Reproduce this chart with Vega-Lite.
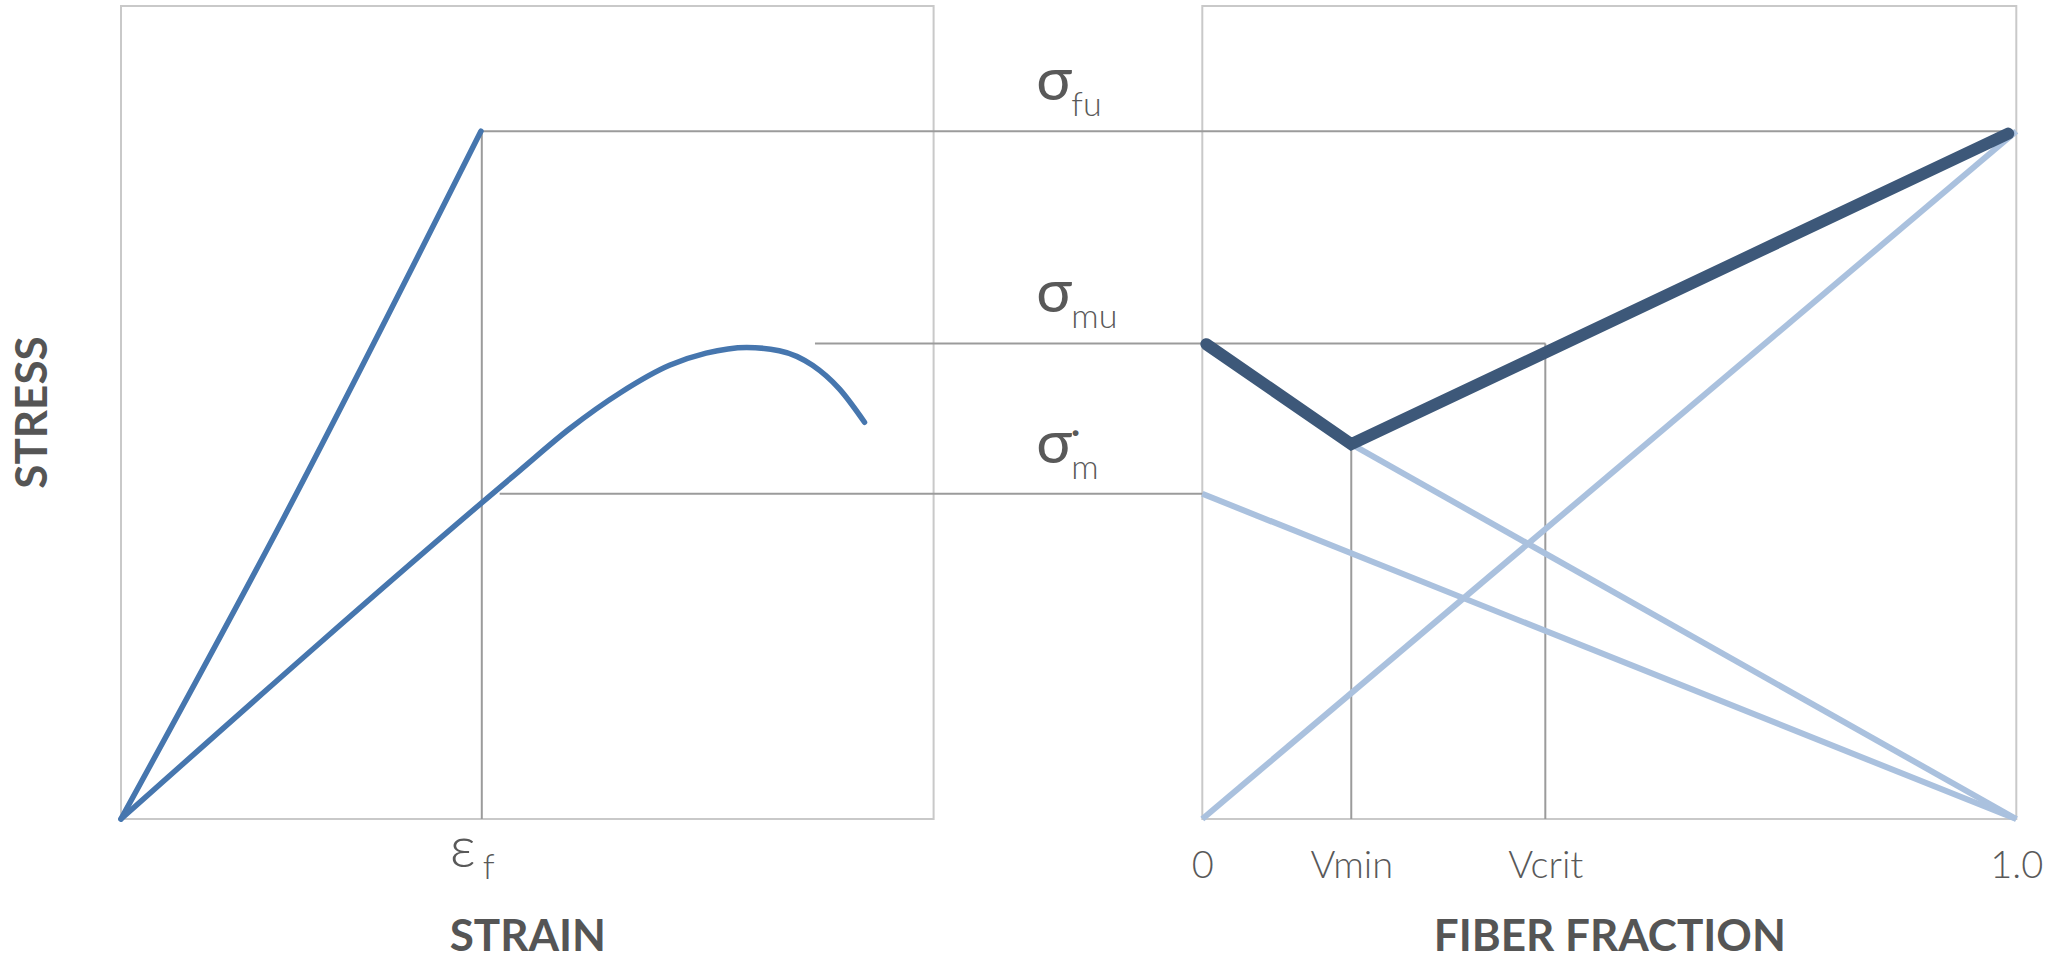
{
  "$schema": "https://vega.github.io/schema/vega-lite/v6.json",
  "width": 1896,
  "height": 813,
  "autosize": {"type": "none"},
  "padding": {"left": 121, "top": 6, "right": 30, "bottom": 141},
  "background": "white",
  "config": {
    "view": {"stroke": null},
    "text": {"font": "Lato", "color": "#595959", "fontWeight": 300},
    "axis": {
      "labelFont": "Lato", "labelFontWeight": 300, "labelFontSize": 38, "labelColor": "#595959",
      "titleFont": "Lato", "titleFontWeight": "bold", "titleFontSize": 44, "titleColor": "#555555",
      "grid": false, "ticks": false, "domain": false, "minExtent": 0
    }
  },
  "datasets": {
    "strainCurves": [
      {"curve": "fiber", "strain": 0, "stress": 0},
      {"curve": "fiber", "strain": 0.2, "stress": 0.37},
      {"curve": "fiber", "strain": 0.443, "stress": 0.846},
      {"curve": "matrix", "strain": 0, "stress": 0},
      {"curve": "matrix", "strain": 0.49, "stress": 0.428},
      {"curve": "matrix", "strain": 0.552, "stress": 0.48},
      {"curve": "matrix", "strain": 0.614, "stress": 0.524},
      {"curve": "matrix", "strain": 0.675, "stress": 0.558},
      {"curve": "matrix", "strain": 0.72, "stress": 0.573},
      {"curve": "matrix", "strain": 0.77, "stress": 0.58},
      {"curve": "matrix", "strain": 0.81, "stress": 0.576},
      {"curve": "matrix", "strain": 0.851, "stress": 0.558},
      {"curve": "matrix", "strain": 0.884, "stress": 0.529},
      {"curve": "matrix", "strain": 0.915, "stress": 0.488}
    ],
    "fractionLines": [
      {"line": "fiber", "V": 0, "stress": 0},
      {"line": "fiber", "V": 1, "stress": 0.846},
      {"line": "matrix", "V": 0, "stress": 0.4},
      {"line": "matrix", "V": 1, "stress": 0},
      {"line": "matrix ultimate", "V": 0.183, "stress": 0.461},
      {"line": "matrix ultimate", "V": 1, "stress": 0}
    ],
    "composite": [
      {"V": 0.005, "stress": 0.584},
      {"V": 0.183, "stress": 0.461},
      {"V": 0.99, "stress": 0.843}
    ],
    "levels": [
      {"level": "fu", "stress": 0.846, "start": 0.444, "end": 2.33},
      {"level": "mu", "stress": 0.585, "start": 0.854, "end": 1.753},
      {"level": "m", "stress": 0.4, "start": 0.466, "end": 1.331}
    ],
    "fractionMarks": [
      {"name": "Vmin", "V": 0.183, "stress": 0.461},
      {"name": "Vcrit", "V": 0.4214, "stress": 0.585}
    ],
    "titles": [
      {"title": "STRESS", "strain": 0, "stress": 0.5}
    ]
  },
  "resolve": {"scale": {"x": "independent"}},
  "layer": [
    {
      "data": {"values": [{"s0": 0, "s1": 1, "y0": 0, "y1": 1}]},
      "mark": {"type": "rect", "fill": "transparent", "stroke": "#c9c9c9", "strokeWidth": 2},
      "encoding": {
        "x": {"field": "s0", "type": "quantitative",
          "scale": {"domain": [0, 1], "range": [0, 812.6], "nice": false, "zero": false},
          "axis": {"orient": "bottom", "title": "STRAIN", "labels": false, "titleX": 406.3, "titleY": 131, "titleBaseline": "alphabetic", "titleAlign": "center"}},
        "x2": {"field": "s1"},
        "y": {"field": "y0", "type": "quantitative", "scale": {"domain": [0, 1], "nice": false, "zero": false}, "axis": null},
        "y2": {"field": "y1"}
      }
    },
    {
      "data": {"values": [{"v0": 0, "v1": 1, "y0": 0, "y1": 1}]},
      "mark": {"type": "rect", "fill": "transparent", "stroke": "#c9c9c9", "strokeWidth": 2},
      "encoding": {
        "x": {"field": "v0", "type": "quantitative",
          "scale": {"domain": [0, 1], "range": [1081.3, 1895.3], "nice": false, "zero": false},
          "axis": {"orient": "bottom", "title": "FIBER FRACTION", "values": [0, 0.183, 0.4214, 1],
            "labelExpr": "datum.value == 0 ? '0' : datum.value == 1 ? '1.0' : datum.value < 0.3 ? 'Vmin' : 'Vcrit'",
            "labelPadding": 28, "labelFlush": false, "labelOverlap": false,
            "titleX": 1488.3, "titleY": 131, "titleBaseline": "alphabetic", "titleAlign": "center"}},
        "x2": {"field": "v1"},
        "y": {"field": "y0", "type": "quantitative", "scale": {"domain": [0, 1], "nice": false, "zero": false}, "axis": null},
        "y2": {"field": "y1"}
      }
    },
    {
      "data": {"name": "levels"},
      "mark": {"type": "rule", "color": "#9b9b9b", "strokeWidth": 2},
      "encoding": {
        "x": {"field": "start", "type": "quantitative", "scale": {"domain": [0, 1], "range": [0, 812.6], "nice": false, "zero": false}, "axis": null},
        "x2": {"field": "end"},
        "y": {"field": "stress", "type": "quantitative", "scale": {"domain": [0, 1], "nice": false, "zero": false}, "axis": null}
      }
    },
    {
      "data": {"values": [{"strain": 0.444, "base": 0, "stress": 0.846}]},
      "mark": {"type": "rule", "color": "#9b9b9b", "strokeWidth": 2},
      "encoding": {
        "x": {"field": "strain", "type": "quantitative", "scale": {"domain": [0, 1], "range": [0, 812.6], "nice": false, "zero": false}, "axis": null},
        "y": {"field": "base", "type": "quantitative", "scale": {"domain": [0, 1], "nice": false, "zero": false}, "axis": null},
        "y2": {"field": "stress"}
      }
    },
    {
      "data": {"name": "fractionMarks"},
      "transform": [{"calculate": "0", "as": "base"}],
      "mark": {"type": "rule", "color": "#9b9b9b", "strokeWidth": 2},
      "encoding": {
        "x": {"field": "V", "type": "quantitative", "scale": {"domain": [0, 1], "range": [1081.3, 1895.3], "nice": false, "zero": false}, "axis": null},
        "y": {"field": "base", "type": "quantitative", "scale": {"domain": [0, 1], "nice": false, "zero": false}, "axis": null},
        "y2": {"field": "stress"}
      }
    },
    {
      "data": {"name": "fractionLines"},
      "mark": {"type": "line", "color": "#aac1de", "strokeWidth": 6},
      "encoding": {
        "x": {"field": "V", "type": "quantitative", "scale": {"domain": [0, 1], "range": [1081.3, 1895.3], "nice": false, "zero": false}, "axis": null},
        "y": {"field": "stress", "type": "quantitative", "scale": {"domain": [0, 1], "nice": false, "zero": false}, "axis": null},
        "detail": {"field": "line"}
      }
    },
    {
      "data": {"name": "composite"},
      "mark": {"type": "line", "color": "#3d5879", "strokeWidth": 12, "strokeCap": "round", "strokeJoin": "miter"},
      "encoding": {
        "x": {"field": "V", "type": "quantitative", "scale": {"domain": [0, 1], "range": [1081.3, 1895.3], "nice": false, "zero": false}, "axis": null},
        "y": {"field": "stress", "type": "quantitative", "scale": {"domain": [0, 1], "nice": false, "zero": false}, "axis": null}
      }
    },
    {
      "data": {"name": "strainCurves"},
      "transform": [{"filter": "datum.curve == 'fiber'"}],
      "mark": {"type": "line", "color": "#4676ae", "strokeWidth": 5.5, "strokeCap": "round", "interpolate": "monotone"},
      "encoding": {
        "x": {"field": "strain", "type": "quantitative", "scale": {"domain": [0, 1], "range": [0, 812.6], "nice": false, "zero": false}, "axis": null},
        "y": {"field": "stress", "type": "quantitative", "scale": {"domain": [0, 1], "nice": false, "zero": false}, "axis": null}
      }
    },
    {
      "data": {"name": "strainCurves"},
      "transform": [{"filter": "datum.curve == 'matrix'"}],
      "mark": {"type": "line", "color": "#4676ae", "strokeWidth": 5.5, "strokeCap": "round", "interpolate": "monotone"},
      "encoding": {
        "x": {"field": "strain", "type": "quantitative", "scale": {"domain": [0, 1], "range": [0, 812.6], "nice": false, "zero": false}, "axis": null},
        "y": {"field": "stress", "type": "quantitative", "scale": {"domain": [0, 1], "nice": false, "zero": false}, "axis": null}
      }
    },
    {
      "data": {"name": "titles"},
      "mark": {"type": "text", "angle": 270, "fontSize": 44, "fontWeight": "bold", "color": "#555555", "align": "center", "baseline": "middle", "dy": -87.5},
      "encoding": {
        "text": {"field": "title"},
        "x": {"field": "strain", "type": "quantitative", "scale": {"domain": [0, 1], "range": [0, 812.6], "nice": false, "zero": false}, "axis": null},
        "y": {"field": "stress", "type": "quantitative", "scale": {"domain": [0, 1], "nice": false, "zero": false}, "axis": null}
      }
    },
    {
      "data": {"name": "levels"},
      "transform": [{"calculate": "0", "as": "axisV"}],
      "mark": {"type": "text", "text": "σ", "fontSize": 60, "fontWeight": 400, "align": "center", "baseline": "alphabetic", "dx": -148, "dy": -31},
      "encoding": {
        "x": {"field": "axisV", "type": "quantitative", "scale": {"domain": [0, 1], "range": [1081.3, 1895.3], "nice": false, "zero": false}, "axis": null},
        "y": {"field": "stress", "type": "quantitative", "scale": {"domain": [0, 1], "nice": false, "zero": false}, "axis": null}
      }
    },
    {
      "data": {"name": "levels"},
      "transform": [{"calculate": "0", "as": "axisV"}],
      "mark": {"type": "text", "fontSize": 34, "align": "left", "baseline": "alphabetic", "dx": -131, "dy": -15},
      "encoding": {
        "text": {"field": "level"},
        "x": {"field": "axisV", "type": "quantitative", "scale": {"domain": [0, 1], "range": [1081.3, 1895.3], "nice": false, "zero": false}, "axis": null},
        "y": {"field": "stress", "type": "quantitative", "scale": {"domain": [0, 1], "nice": false, "zero": false}, "axis": null}
      }
    },
    {
      "data": {"name": "levels"},
      "transform": [{"filter": "datum.level == 'm'"}, {"calculate": "0", "as": "axisV"}],
      "mark": {"type": "text", "text": "•", "fontSize": 20, "align": "center", "baseline": "alphabetic", "dx": -126.7, "dy": -55},
      "encoding": {
        "x": {"field": "axisV", "type": "quantitative", "scale": {"domain": [0, 1], "range": [1081.3, 1895.3], "nice": false, "zero": false}, "axis": null},
        "y": {"field": "stress", "type": "quantitative", "scale": {"domain": [0, 1], "nice": false, "zero": false}, "axis": null}
      }
    },
    {
      "data": {"values": [{"strain": 0.444, "base": 0}]},
      "mark": {"type": "text", "text": "ε", "fontSize": 58, "align": "center", "baseline": "alphabetic", "dx": -19, "dy": 48},
      "encoding": {
        "x": {"field": "strain", "type": "quantitative", "scale": {"domain": [0, 1], "range": [0, 812.6], "nice": false, "zero": false}, "axis": null},
        "y": {"field": "base", "type": "quantitative", "scale": {"domain": [0, 1], "nice": false, "zero": false}, "axis": null}
      }
    },
    {
      "data": {"values": [{"strain": 0.444, "base": 0}]},
      "mark": {"type": "text", "text": "f", "fontSize": 35, "align": "left", "baseline": "alphabetic", "dx": 1, "dy": 60},
      "encoding": {
        "x": {"field": "strain", "type": "quantitative", "scale": {"domain": [0, 1], "range": [0, 812.6], "nice": false, "zero": false}, "axis": null},
        "y": {"field": "base", "type": "quantitative", "scale": {"domain": [0, 1], "nice": false, "zero": false}, "axis": null}
      }
    }
  ]
}
